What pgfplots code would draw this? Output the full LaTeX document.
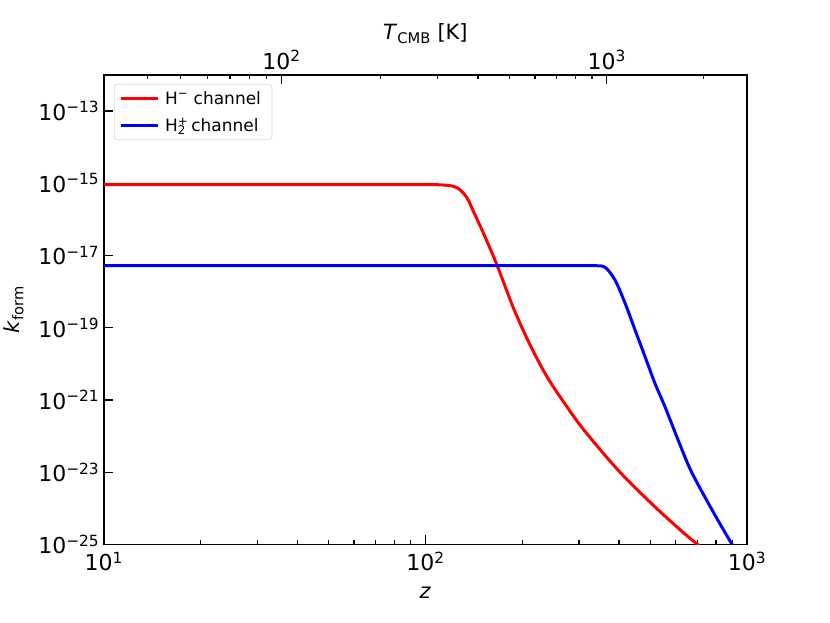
\documentclass[border=0pt]{standalone}
\usepackage{fontspec}
\setmainfont{DejaVu Sans}
\usepackage{pgfplots}
\pgfplotsset{compat=1.18}
\newcommand{\ticksz}{\fontsize{22bp}{26bp}\selectfont}
\newcommand{\labsz}{\fontsize{21bp}{25bp}\selectfont}
\newcommand{\legsz}{\fontsize{17bp}{20bp}\selectfont}
\begin{document}
\begin{tikzpicture}
\begin{axis}[
  width=644bp, height=470bp, scale only axis,
  at={(0,0)}, anchor=south west,
  xmode=log, ymode=log,
  xmin=10, xmax=1000, ymin=1e-25, ymax=1e-12,
  tick align=inside,
  major tick length=9bp, minor tick length=4.5bp,
  every tick/.style={black, line width=1.3bp},
  axis line style={line width=1.8bp, black},
  tick label style={font=\ticksz},
  label style={font=\labsz},
  xtick={10,100,1000},
  xticklabels={10\textsuperscript{1},10\textsuperscript{2},10\textsuperscript{3}},
  xtick pos=left, ytick pos=left,
  ytick={1e-25,1e-23,1e-21,1e-19,1e-17,1e-15,1e-13},
  yticklabels={10\textsuperscript{−25},10\textsuperscript{−23},10\textsuperscript{−21},10\textsuperscript{−19},10\textsuperscript{−17},10\textsuperscript{−15},10\textsuperscript{−13}},
  yminorticks=false,
  xticklabel style={yshift=-4bp},
  yticklabel style={xshift=-1bp},
  xlabel={\textit{z}},
  ylabel={\textit{k}\textsubscript{form}},
  xlabel style={yshift=-9bp},
  ylabel style={yshift=8bp},
  legend cell align=left,
  legend style={at={(0.0155,0.981)}, anchor=north west, draw=black!15, rounded corners=3bp,
    font=\legsz, inner xsep=5bp, inner ysep=5bp, row sep=8bp, line width=0.8bp,
    nodes={inner xsep=6bp}},
  legend image code/.code={\draw[#1] (0bp,0bp) -- (37bp,0bp);},
]
\addplot[red, line width=3bp, smooth, tension=0.55] coordinates {
(10,9.12e-16) (40,9.12e-16) (80,9.12e-16) (100,9.12e-16) (110,9.1e-16) (122,8.3e-16)
(128.4,6.46e-16) (135.0,3.80e-16) (141.0,1.66e-16) (151.4,4.2e-17) (167.0,5.37e-18)
(188.1,3.38e-19) (211.9,3.24e-20) (238.8,4.37e-21) (268.9,8.8e-22) (309.5,1.56e-22)
(394.8,1.21e-23) (499.7,1.47e-24) (632.6,2.15e-25) (740.5,6.8e-26)
};
\addlegendentry{H\textsuperscript{−} channel}
\addplot[blue, line width=3bp, smooth, tension=0.55] coordinates {
(10,5.25e-18) (100,5.25e-18) (200,5.25e-18) (290,5.25e-18) (315,5.25e-18) (337.3,5.22e-18)
(362.2,4.67e-18) (389.0,2.05e-18) (418.0,4.64e-19) (449.0,8.4e-20) (482.3,1.53e-20)
(518.0,2.78e-21) (556.3,6.3e-22) (611.8,7.4e-23) (673.2,9.8e-24) (795.5,6.4e-25)
(898,1e-25) (937.6,5.3e-26)
};
\addlegendentry{H\rlap{\textsuperscript{+}}\textsubscript{2} channel}
\end{axis}
\begin{axis}[
  width=644bp, height=470bp, scale only axis,
  at={(0,0)}, anchor=south west,
  xmode=log,
  xmin=10, xmax=1000, ymin=0, ymax=1,
  tick align=inside,
  major tick length=9bp, minor tick length=4.5bp,
  every tick/.style={black, line width=1.3bp},
  axis line style={line width=1.8bp, black},
  tick label style={font=\ticksz},
  label style={font=\labsz},
  hide y axis,
  axis x line*=top,
  xtick={35.697,365.97},
  xticklabels={10\textsuperscript{2},10\textsuperscript{3}},
  minor xtick={13.679,17.349,21.018,24.688,28.358,32.028,72.394,109.09,145.79,182.49,219.18,255.88,292.58,329.28,732.94},
  xlabel={\textit{T}\textsubscript{CMB} [K]},
  xticklabel style={yshift=2bp},
]
\end{axis}
\path[use as bounding box] (-103bp,-78bp) rectangle (727bp,545bp);
\end{tikzpicture}
\end{document}
